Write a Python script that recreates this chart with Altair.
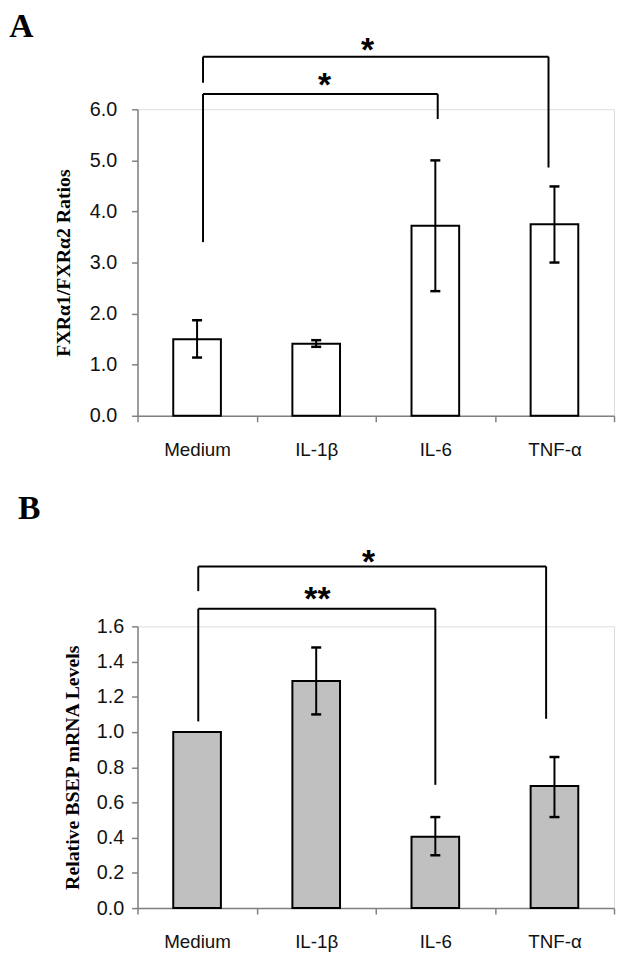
import altair as alt
import pandas as pd

# ---------------- data ----------------
categories = ["Medium", "IL-1β", "IL-6", "TNF-α"]

a_values = [1.50, 1.41, 3.72, 3.75]
a_err_low = [1.14, 1.35, 2.44, 3.00]
a_err_high = [1.87, 1.48, 5.00, 4.49]

b_values = [1.00, 1.29, 0.405, 0.693]
b_err_low = [None, 1.10, 0.30, 0.517]
b_err_high = [None, 1.48, 0.517, 0.858]

# significance brackets (x in category units, y in data units)
a_br_left = [0.55, 0.55]
a_br_right = [3.45, 2.52]
a_br_top = [7.03, 6.30]
a_br_left_end = [6.52, 3.40]
a_br_right_end = [4.86, 5.81]
a_br_label = ["*", "*"]
a_br_label_x = [1.93, 1.57]
a_br_label_y = [7.24, 6.56]

b_br_left = [0.51, 0.51]
b_br_right = [3.43, 2.50]
b_br_top = [1.94, 1.70]
b_br_left_end = [1.80, 1.06]
b_br_right_end = [1.075, 0.70]
b_br_label = ["*", "**"]
b_br_label_x = [1.94, 1.51]
b_br_label_y = [1.99, 1.775]

a_ticks = [0, 1, 2, 3, 4, 5, 6]
b_ticks = [0, 0.2, 0.4, 0.6, 0.8, 1.0, 1.2, 1.4, 1.6]

BAR_HALF = 0.2
CAP_HALF = 0.042
SANS = "Liberation Sans"
SERIF = "Liberation Serif"
LABEL_COLOR = "#111111"

label_list = "[" + ",".join("'" + c + "'" for c in categories) + "]"
x_label_expr = f"datum.value % 1 === 0 ? '' : {label_list}[floor(datum.value)]"


def make_panel(letter, values, lo, hi, brl, brr, brt, brle, brre, brlab, brlx, brly,
               yticks, ymax, yfmt, ytitle, fill, height, ylabelpad, ytitlepad, title_offset):
    pos = [i + 0.5 for i in range(len(categories))]
    bars = pd.DataFrame({
        "cat": categories,
        "pos": pos,
        "x0": [p - BAR_HALF for p in pos],
        "x1": [p + BAR_HALF for p in pos],
        "value": values,
        "lo": lo,
        "hi": hi,
        "c0": [p - CAP_HALF for p in pos],
        "c1": [p + CAP_HALF for p in pos],
    })
    err = bars.dropna(subset=["lo", "hi"])
    br = pd.DataFrame({
        "xl": brl, "xr": brr, "yt": brt, "yle": brle, "yre": brre,
        "lab": brlab, "lx": brlx, "ly": brly,
    })

    xscale = alt.Scale(domain=[0, 4], nice=False, zero=False)
    yscale = alt.Scale(domain=[0, ymax], nice=False, zero=True)

    xaxis = alt.Axis(
        values=[i * 0.5 for i in range(9)],
        labelExpr=x_label_expr,
        tickOpacity={"condition": {"test": "datum.value % 1 === 0", "value": 1}, "value": 0},
        tickSize=6, tickColor="#808080", tickWidth=1.5,
        domainColor="#808080", domainWidth=1.5,
        labelFont=SANS, labelFontSize=19, labelColor=LABEL_COLOR,
        labelPadding=19, labelOverlap=False, labelFlush=False,
        grid=False, title=None,
    )
    yaxis = alt.Axis(
        values=yticks, format=yfmt,
        tickSize=6, tickColor="#808080", tickWidth=1.5,
        domainColor="#808080", domainWidth=1.5,
        labelFont=SANS, labelFontSize=20, labelColor=LABEL_COLOR,
        labelPadding=ylabelpad, labelOverlap=False, labelFlush=False, grid=False,
        title=ytitle, titleFont=SERIF, titleFontSize=20, titleFontWeight="bold",
        titleColor="#000000", titlePadding=ytitlepad,
    )

    def X(field):
        return alt.X(field, type="quantitative", scale=xscale, axis=xaxis)

    def Y(field):
        return alt.Y(field, type="quantitative", scale=yscale, axis=yaxis)

    base_bars = alt.Chart(bars).mark_bar(
        fill=fill, stroke="black", strokeWidth=2
    ).encode(x=X("x0"), x2="x1:Q", y=Y("value"), y2=alt.datum(0))
    stems = alt.Chart(err).mark_rule(color="black", strokeWidth=2).encode(
        x=X("pos"), y=Y("lo"), y2="hi:Q"
    )
    cap_lo = alt.Chart(err).mark_rule(color="black", strokeWidth=2.5).encode(
        x=X("c0"), x2="c1:Q", y=Y("lo")
    )
    cap_hi = alt.Chart(err).mark_rule(color="black", strokeWidth=2.5).encode(
        x=X("c0"), x2="c1:Q", y=Y("hi")
    )
    br_h = alt.Chart(br).mark_rule(color="black", strokeWidth=2).encode(
        x=X("xl"), x2="xr:Q", y=Y("yt")
    )
    br_l = alt.Chart(br).mark_rule(color="black", strokeWidth=2).encode(
        x=X("xl"), y=Y("yt"), y2="yle:Q"
    )
    br_r = alt.Chart(br).mark_rule(color="black", strokeWidth=2).encode(
        x=X("xr"), y=Y("yt"), y2="yre:Q"
    )
    stars = alt.Chart(br).mark_text(
        font=SANS, fontSize=34, fontWeight="bold", color="black",
        baseline="middle", align="center", dy=5
    ).encode(x=X("lx"), y=Y("ly"), text="lab:N")

    return alt.layer(base_bars, stems, cap_lo, cap_hi, br_h, br_l, br_r, stars).properties(
        width=482, height=height,
        title=alt.TitleParams(
            letter, anchor="start", frame="bounds", font=SERIF, fontSize=34,
            fontWeight="bold", color="black", offset=title_offset, dx=-45,
        ),
    )


panel_a = make_panel("A", a_values, a_err_low, a_err_high,
                     a_br_left, a_br_right, a_br_top, a_br_left_end, a_br_right_end,
                     a_br_label, a_br_label_x, a_br_label_y,
                     a_ticks, 6, ".1f", "FXRα1/FXRα2 Ratios", "white", 310, 15, 16, -10)
panel_b = make_panel("B", b_values, b_err_low, b_err_high,
                     b_br_left, b_br_right, b_br_top, b_br_left_end, b_br_right_end,
                     b_br_label, b_br_label_x, b_br_label_y,
                     b_ticks, 1.6, ".1f", "Relative BSEP mRNA Levels", "#c0c0c0", 285, 8, 14, 20)

chart = alt.vconcat(panel_a, panel_b, spacing=32).properties(
    padding={"left": 0, "top": -4, "right": 0, "bottom": 0}
).configure_view(strokeWidth=0).configure(background="white")

chart.save("out.html", embed_options={"renderer": "svg", "actions": False})
